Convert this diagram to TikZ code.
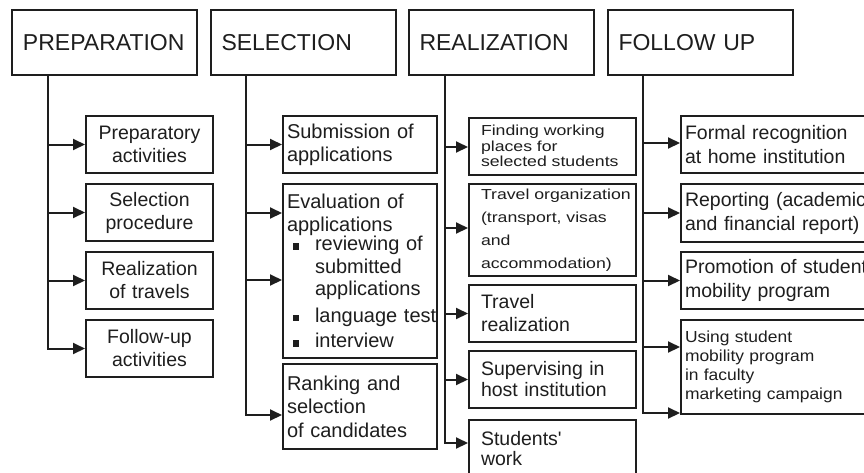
\documentclass[tikz,border=0pt]{standalone}
\usepackage{fontspec}
\setmainfont{Liberation Sans}
\newfontfamily\plainsans{Liberation Sans}
\newfontfamily\wideA[FakeStretch=1.22]{Liberation Sans}
\newfontfamily\wideB[FakeStretch=1.09]{Liberation Sans}
\usetikzlibrary{arrows.meta}
\definecolor{ink}{HTML}{1E1E1E}
\newcommand{\bsq}{\makebox[28pt][l]{\hspace{5.5pt}\rule[1pt]{6.5pt}{6.5pt}}}
\newcommand{\ind}{\hspace*{28pt}}
\begin{document}
\begin{tikzpicture}[x=1pt,y=-1pt,
  box/.style={draw=ink, line width=2pt, text=ink, inner ysep=0pt, minimum height=57pt},
  hdr/.style={box, minimum height=65pt, text width=163pt, inner xsep=11pt, align=left,
              font=\fontsize{23}{27}\selectfont},
  pbox/.style={box, text width=119pt, inner xsep=4pt, align=center,
               font=\fontsize{19.5}{23}\selectfont},
  sbox/.style={box, text width=146pt, inner xsep=4pt, align=left,
               font=\fontsize{20}{23}\selectfont},
  rbox/.style={box, text width=143pt, inner xsep=12pt, align=left,
               font=\fontsize{19.5}{22}\selectfont},
  fbox/.style={box, text width=191pt, inner xsep=4pt, align=left,
               font=\fontsize{19.5}{24}\selectfont},
  arr/.style={draw=ink, line width=2pt, -{Triangle[length=12pt,width=11pt]}},
  trunk/.style={draw=ink, line width=2pt}
]
\useasboundingbox (0,0) rectangle (864,472);
\fill[white] (0,0) rectangle (864,472);
\clip (0,0) rectangle (864,472);

% headers
\node[hdr] (hp) at (104.5,42.5) {PREPARATION};
\node[hdr] (hs) at (303,42.5) {SELECTION};
\node[hdr] (hr) at (501,42.5) {REALIZATION};
\node[hdr] (hf) at (700,42.5) {FOLLOW UP};

\coordinate (tp) at (48,75);
\coordinate (ts) at (246,75);
\coordinate (tr) at (445,75);
\coordinate (tf) at (643,75);

% preparation
\node[pbox] (p1) at (149.5,144.5) {Preparatory\\activities};
\node[pbox] (p2) at (149.5,212.5) {Selection\\procedure};
\node[pbox] (p3) at (149.5,280.5) {Realization\\of travels};
\node[pbox] (p4) at (149.5,348.5) {Follow-up\\activities};

% selection
\node[sbox] (s1) at (360,144.5) {Submission of\\applications};
\node[sbox, minimum height=174pt, font=\fontsize{20}{22.5}\selectfont] (s2) at (360,271)
  {\mbox{Evaluation of}\\\mbox{applications}\\[-3pt]
   \mbox{\bsq reviewing of}\\
   \mbox{\ind submitted}\\
   \mbox{\ind applications}\\[4pt]
   \mbox{\bsq language test}\\[3pt]
   \mbox{\bsq interview}};
\node[sbox, minimum height=85pt, font=\fontsize{20}{23.5}\selectfont] (s3) at (360,406.5)
  {Ranking and\\selection\\of candidates};

% realization
\node[rbox, font=\wideA\fontsize{14.5}{15.5}\selectfont] (r1) at (552.5,146)
  {Finding working\\places for\\selected students};
\node[rbox, minimum height=92pt, font=\wideA\fontsize{14.5}{23}\selectfont] (r2) at (552.5,230)
  {\mbox{Travel organization}\\(transport, visas\\and\\accommodation)};
\node[rbox, font=\fontsize{19.5}{23}\selectfont] (r3) at (552.5,313.5) {Travel\\realization};
\node[rbox, font=\fontsize{19.5}{21}\selectfont] (r4) at (552.5,379.5) {Supervising in\\host institution};
\node[rbox, font=\fontsize{19.5}{20}\selectfont] (r5) at (552.5,448.5) {Students{\plainsans '}\\work};

% follow up
\node[fbox] (f1) at (780.5,144.5) {Formal recognition\\at home institution};
\node[fbox, minimum height=58pt] (f2) at (780.5,213) {\mbox{Reporting (academic}\\and financial report)};
\node[fbox] (f3) at (780.5,280.5) {\mbox{Promotion of student}\\mobility program};
\node[fbox, minimum height=94pt, font=\wideB\fontsize{16}{19}\selectfont] (f4) at (780.5,367)
  {Using student\\mobility program\\in faculty\\marketing campaign};

% connectors
\draw[arr] (tp) |- (p1.west);
\draw[arr] (tp) |- (p2.west);
\draw[arr] (tp) |- (p3.west);
\draw[arr] (tp) |- (p4.west);

\draw[arr] (ts) |- (s1.west);
\draw[arr] (ts) |- ([yshift=58pt]s2.west);
\draw[arr] (ts) |- ([yshift=-9pt]s2.west);
\draw[arr] (ts) |- ([yshift=-8.5pt]s3.west);

\draw[arr] (tr) |- ([yshift=-1pt]r1.west);
\draw[arr] (tr) |- ([yshift=2pt]r2.west);
\draw[arr] (tr) |- (r3.west);
\draw[arr] (tr) |- (r4.west);
\draw[arr] (tr) |- ([yshift=5.5pt]r5.west);

\draw[arr] (tf) |- ([yshift=1.5pt]f1.west);
\draw[arr] (tf) |- (f2.west);
\draw[arr] (tf) |- (f3.west);
\draw[arr] (tf) |- ([yshift=20pt]f4.west);
\draw[arr] (tf) |- ([yshift=-46pt]f4.west);
\end{tikzpicture}
\end{document}
